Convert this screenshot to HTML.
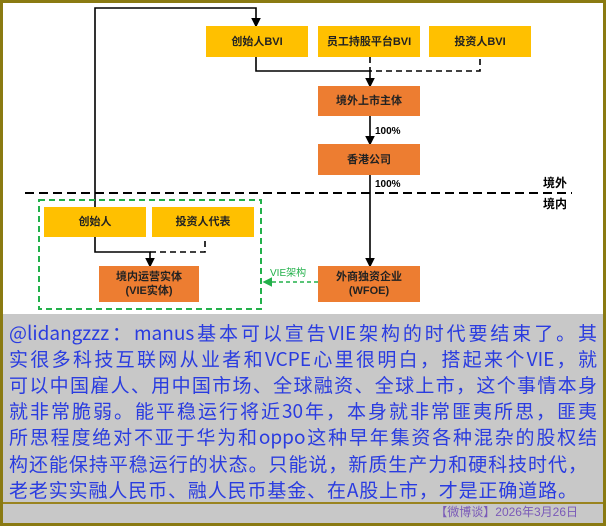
<!DOCTYPE html>
<html><head><meta charset="utf-8"><style>
body{margin:0;width:606px;height:526px;background:#8a7a12;position:relative;overflow:hidden;font-family:"Liberation Sans","Noto Sans CJK SC",sans-serif}
.w{position:absolute;left:3px;top:3px;width:600px;height:311px;background:#fff}
.g{position:absolute;left:3px;top:314px;width:600px;height:209px;background:#c8c8c8}
.b{position:absolute;display:flex;align-items:center;justify-content:center;text-align:center;font-size:11px;font-weight:bold;color:#222;line-height:14px}
.y{background:#ffc000}.o{background:#ed7d31}
.t{position:absolute;left:9px;width:588px;font-size:19px;color:#2a3ce0;white-space:nowrap;line-height:26px;font-family:"Noto Sans CJK SC",sans-serif;letter-spacing:0}
.j{text-align:justify;text-align-last:justify}
</style></head><body>
<div class="w"></div>
<div class="g"></div>
<svg style="position:absolute;left:0;top:0" width="606" height="320">
<defs><marker id="a" markerWidth="6" markerHeight="6" refX="5" refY="3" orient="auto"><path d="M0,0L6,3L0,6z" fill="#000"/></marker>
<marker id="ag" markerWidth="6" markerHeight="6" refX="5" refY="3" orient="auto"><path d="M0,0L6,3L0,6z" fill="#22b04a"/></marker></defs>
<g stroke="#000" stroke-width="1.6" fill="none">
<path d="M95 207V8H256V26" marker-end="url(#a)"/>
<path d="M256 57V71H370V86" marker-end="url(#a)"/>
<path d="M370 116V144" marker-end="url(#a)"/>
<path d="M370 175V266" marker-end="url(#a)"/>
<path d="M95 237V252H150V266" marker-end="url(#a)"/>
<g stroke-dasharray="6,4"><path d="M370 57V71H480V57"/><path d="M150 252H205V237"/></g>
<path d="M25 193H572" stroke-width="2" stroke-dasharray="9,5"/>
</g>
<rect x="39" y="200" width="222" height="109" fill="none" stroke="#22b04a" stroke-width="2" stroke-dasharray="6,4"/>
<path d="M318 282H264" stroke="#22b04a" stroke-width="1.6" stroke-dasharray="4,3" fill="none" marker-end="url(#ag)"/>
<text x="270" y="276" font-size="10" fill="#22b04a" font-family="Liberation Sans,Noto Sans CJK SC,sans-serif">VIE架构</text>
<text x="375" y="134" font-size="10" font-weight="bold" font-family="Liberation Sans,sans-serif">100%</text>
<text x="375" y="187" font-size="10" font-weight="bold" font-family="Liberation Sans,sans-serif">100%</text>
<text x="543" y="187" font-size="12" font-weight="bold" font-family="Noto Sans CJK SC,sans-serif">境外</text>
<text x="543" y="208" font-size="12" font-weight="bold" font-family="Noto Sans CJK SC,sans-serif">境内</text>
</svg>
<div class="b y" style="left:206px;top:26px;width:102px;height:31px">创始人BVI</div>
<div class="b y" style="left:318px;top:26px;width:102px;height:31px">员工持股平台BVI</div>
<div class="b y" style="left:429px;top:26px;width:102px;height:31px">投资人BVI</div>
<div class="b o" style="left:318px;top:86px;width:102px;height:30px">境外上市主体</div>
<div class="b o" style="left:318px;top:144px;width:102px;height:31px">香港公司</div>
<div class="b y" style="left:44px;top:207px;width:102px;height:30px">创始人</div>
<div class="b y" style="left:152px;top:207px;width:102px;height:30px">投资人代表</div>
<div class="b o" style="left:99px;top:266px;width:100px;height:36px">境内运营实体<br>(VIE实体)</div>
<div class="b o" style="left:318px;top:266px;width:102px;height:36px">外商独资企业<br>(WFOE)</div>
<div class="t j" style="top:320px">@lidangzzz：manus基本可以宣告VIE架构的时代要结束了。其</div>
<div class="t j" style="top:346px">实很多科技互联网从业者和VCPE心里很明白，搭起来个VIE，就</div>
<div class="t j" style="top:372px">可以中国雇人、用中国市场、全球融资、全球上市，这个事情本身</div>
<div class="t j" style="top:398px">就非常脆弱。能平稳运行将近30年，本身就非常匪夷所思，匪夷</div>
<div class="t j" style="top:424px">所思程度绝对不亚于华为和oppo这种早年集资各种混杂的股权结</div>
<div class="t j" style="top:451px;width:578px">构还能保持平稳运行的状态。只能说，新质生产力和硬科技时代，</div>
<div class="t j" style="top:477px;width:568px">老老实实融人民币、融人民币基金、在A股上市，才是正确道路。</div>
<div style="position:absolute;left:3px;top:502px;width:600px;height:2px;background:#9a8420"></div>
<div style="position:absolute;right:28px;top:504px;font-size:12px;color:#7a5ab8;line-height:17px;font-family:'Liberation Sans','Noto Sans CJK SC',sans-serif">【微博谈】2026年3月26日</div>
</body></html>
